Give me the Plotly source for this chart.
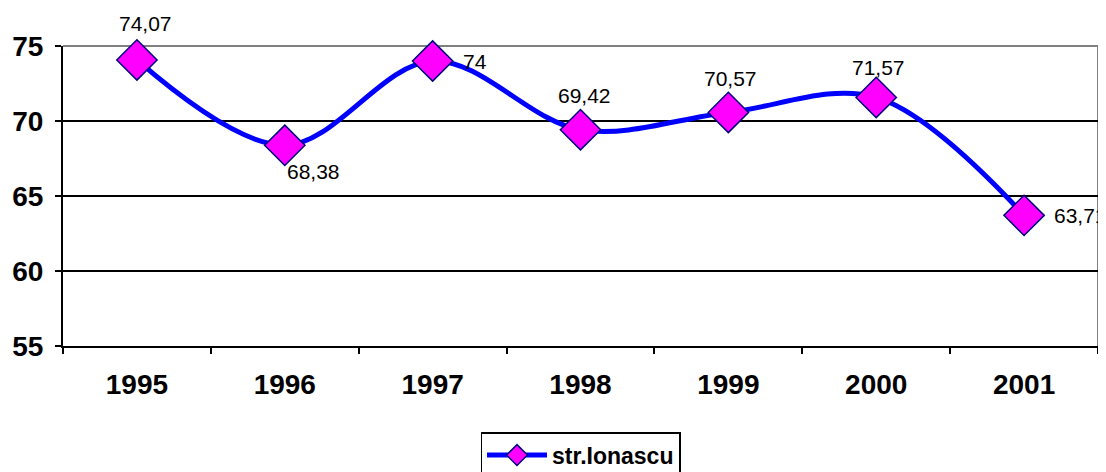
import plotly.graph_objects as go

years = ["1995", "1996", "1997", "1998", "1999", "2000", "2001"]
values = [74.07, 68.38, 74.00, 69.42, 70.57, 71.57, 63.71]
labels = ["74,07", "68,38", "74", "69,42", "70,57", "71,57", "63,71"]
series_name = "str.Ionascu"
y_ticks = [55, 60, 65, 70, 75]

FONT = "Arial, Liberation Sans, sans-serif"

fig = go.Figure()
fig.add_trace(go.Scatter(
    x=years, y=values, name=series_name,
    mode="lines+markers",
    line=dict(color="#0000FF", width=5, shape="spline", smoothing=1),
    marker=dict(symbol="diamond", size=31, color="#FF00FF",
                line=dict(color="#000080", width=1.5)),
    cliponaxis=False,
))

# label placement (xanchor, xshift, yshift) per point
place = [("center", 9, 36), ("left", 0, -26), ("left", 28, 0), ("center", 4, 34),
         ("center", 2, 34), ("center", 2, 30), ("left", 28, 0)]
for i, (v, t, (xa, xs, ys)) in enumerate(zip(values, labels, place)):
    fig.add_annotation(x=i, y=v, xref="x", yref="y", text=t, showarrow=False,
                       xanchor=xa, yanchor="middle", xshift=xs, yshift=ys,
                       font=dict(family=FONT, size=21, color="black"))

# plot-area border (top/right gray)
fig.add_shape(type="line", xref="paper", yref="paper", x0=0, x1=1, y0=1, y1=1,
              line=dict(color="#808080", width=2), layer="between")
fig.add_shape(type="line", xref="paper", yref="paper", x0=1, x1=1, y0=0, y1=1,
              line=dict(color="#808080", width=2), layer="between")

fig.update_layout(
    width=1098, height=464,
    margin=dict(l=55, r=8, t=38, b=126, autoexpand=False),
    paper_bgcolor="white", plot_bgcolor="white",
    font=dict(family=FONT, color="black"),
    showlegend=True,
    legend=dict(x=0.5, xanchor="center", y=-0.287, yanchor="top",
                orientation="h", bordercolor="black", borderwidth=1.5,
                font=dict(family=FONT, size=23, color="black", weight="bold"),
                itemwidth=60),
    xaxis=dict(type="category", range=[-0.5, 6.5], showgrid=False,
               showline=True, linecolor="black", linewidth=2,
               ticks="outside", tickson="boundaries", ticklen=6, tickwidth=2,
               tickcolor="black",
               tickfont=dict(family=FONT, size=28, color="black", weight="bold"),
               ticklabelstandoff=12),
    yaxis=dict(range=[55, 75], tickvals=y_ticks, showgrid=True,
               gridcolor="black", gridwidth=2, zeroline=False,
               showline=True, linecolor="black", linewidth=2,
               ticks="outside", ticklen=6, tickwidth=2, tickcolor="black",
               tickfont=dict(family=FONT, size=28, color="black", weight="bold"),
               ticklabelstandoff=6),
)

fig.write_html("out.html")
